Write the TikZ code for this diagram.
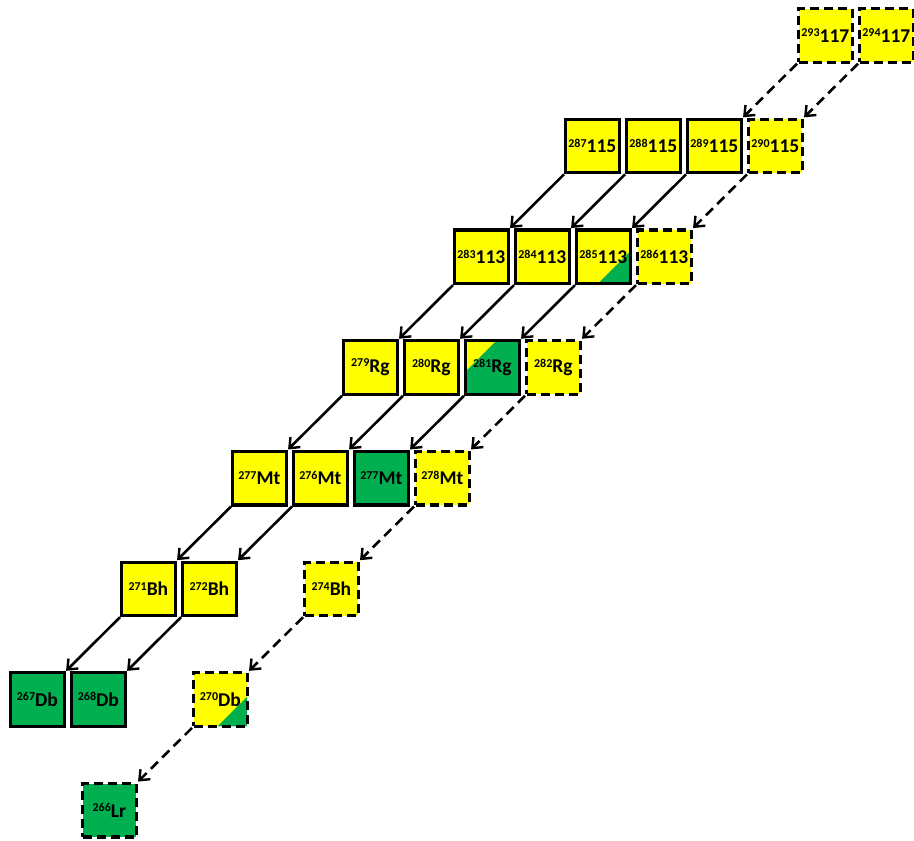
\documentclass[tikz,border=0pt]{standalone}
\usepackage{fontspec}
\setmainfont{Carlito}
\usetikzlibrary{arrows.meta,calc}
\definecolor{nyellow}{HTML}{FFFF00}
\definecolor{ngreen}{HTML}{00B050}
\tikzset{
  iso/.style={rectangle, draw=black, line width=3.2pt, minimum width=53.5pt, minimum height=53.5pt,
    inner sep=0pt, anchor=north west, font=\bfseries},
  solidbox/.style={iso},
  dashbox/.style={iso, dash pattern=on 9pt off 5pt},
  ybox/.style={fill=nyellow},
  gbox/.style={fill=ngreen},
  greencorner/.style={fill=nyellow, path picture={
      \fill[ngreen] ($(path picture bounding box.south west)!#1!(path picture bounding box.south east)$)
        -- (path picture bounding box.south east)
        -- ($(path picture bounding box.south east)!1-#1!(path picture bounding box.north east)$) -- cycle;}},
  yellowcorner/.style={fill=ngreen, path picture={
      \fill[nyellow] ($(path picture bounding box.north west)!#1!(path picture bounding box.north east)$)
        -- (path picture bounding box.north west)
        -- ($(path picture bounding box.north west)!#1!(path picture bounding box.south west)$) -- cycle;}},
  decay/.style={line width=2.6pt, -{Straight Barb[length=8.5pt,width=14pt,line width=2.4pt]}, shorten >=0.5pt},
  decayd/.style={decay, dash pattern=on 10pt off 6pt},
}
\newcommand{\isolabel}[2]{\raisebox{5.5pt}{\fontsize{12}{12}\selectfont #1}\fontsize{19.5}{20}\selectfont #2}
\newcommand{\isobox}[6]{%
  \node[#6] (#1) at ({564+61*#3-111*(#2-2)},{7+110.7*(#2-1)}) {\isolabel{#4}{#5}};}
\begin{document}
\begin{tikzpicture}[x=1pt,y=-1pt]
\useasboundingbox (0,0) rectangle (914,841);
\clip (0,0) rectangle (914,841);
% row 1
\isobox{a293}{1}{2}{293}{117}{dashbox,ybox}
\isobox{a294}{1}{3}{294}{117}{dashbox,ybox}
% row 2
\isobox{b287}{2}{0}{287}{115}{solidbox,ybox}
\isobox{b288}{2}{1}{288}{115}{solidbox,ybox}
\isobox{b289}{2}{2}{289}{115}{solidbox,ybox}
\isobox{b290}{2}{3}{290}{115}{dashbox,ybox}
% row 3
\isobox{c283}{3}{0}{283}{113}{solidbox,ybox}
\isobox{c284}{3}{1}{284}{113}{solidbox,ybox}
\isobox{c285}{3}{2}{285}{113}{solidbox,greencorner=0.4}
\isobox{c286}{3}{3}{286}{113}{dashbox,ybox}
% row 4
\isobox{d279}{4}{0}{279}{Rg}{solidbox,ybox}
\isobox{d280}{4}{1}{280}{Rg}{solidbox,ybox}
\isobox{d281}{4}{2}{281}{Rg}{solidbox,yellowcorner=0.57}
\isobox{d282}{4}{3}{282}{Rg}{dashbox,ybox}
% row 5
\isobox{e277}{5}{0}{277}{Mt}{solidbox,ybox}
\isobox{e276}{5}{1}{276}{Mt}{solidbox,ybox}
\isobox{e277g}{5}{2}{277}{Mt}{solidbox,gbox}
\isobox{e278}{5}{3}{278}{Mt}{dashbox,ybox}
% row 6
\isobox{f271}{6}{0}{271}{Bh}{solidbox,ybox}
\isobox{f272}{6}{1}{272}{Bh}{solidbox,ybox}
\isobox{f274}{6}{3}{274}{Bh}{dashbox,ybox}
% row 7
\isobox{g267}{7}{0}{267}{Db}{solidbox,gbox}
\isobox{g268}{7}{1}{268}{Db}{solidbox,gbox}
\isobox{g270}{7}{3}{270}{Db}{dashbox,greencorner=0.45}
% row 8
\isobox{h266}{8}{3}{266}{Lr}{dashbox,gbox}
% decays
\draw[decayd] (a293.south west) -- (b289.north east);
\draw[decayd] (a294.south west) -- (b290.north east);
\draw[decay] (b287.south west) -- (c283.north east);
\draw[decay] (b288.south west) -- (c284.north east);
\draw[decay] (b289.south west) -- (c285.north east);
\draw[decayd] (b290.south west) -- (c286.north east);
\draw[decay] (c283.south west) -- (d279.north east);
\draw[decay] (c284.south west) -- (d280.north east);
\draw[decay] (c285.south west) -- (d281.north east);
\draw[decayd] (c286.south west) -- (d282.north east);
\draw[decay] (d279.south west) -- (e277.north east);
\draw[decay] (d280.south west) -- (e276.north east);
\draw[decay] (d281.south west) -- (e277g.north east);
\draw[decayd] (d282.south west) -- (e278.north east);
\draw[decay] (e277.south west) -- (f271.north east);
\draw[decay] (e276.south west) -- (f272.north east);
\draw[decayd] (e278.south west) -- (f274.north east);
\draw[decay] (f271.south west) -- (g267.north east);
\draw[decay] (f272.south west) -- (g268.north east);
\draw[decayd] (f274.south west) -- (g270.north east);
\draw[decayd] (g270.south west) -- (h266.north east);
\end{tikzpicture}
\end{document}
